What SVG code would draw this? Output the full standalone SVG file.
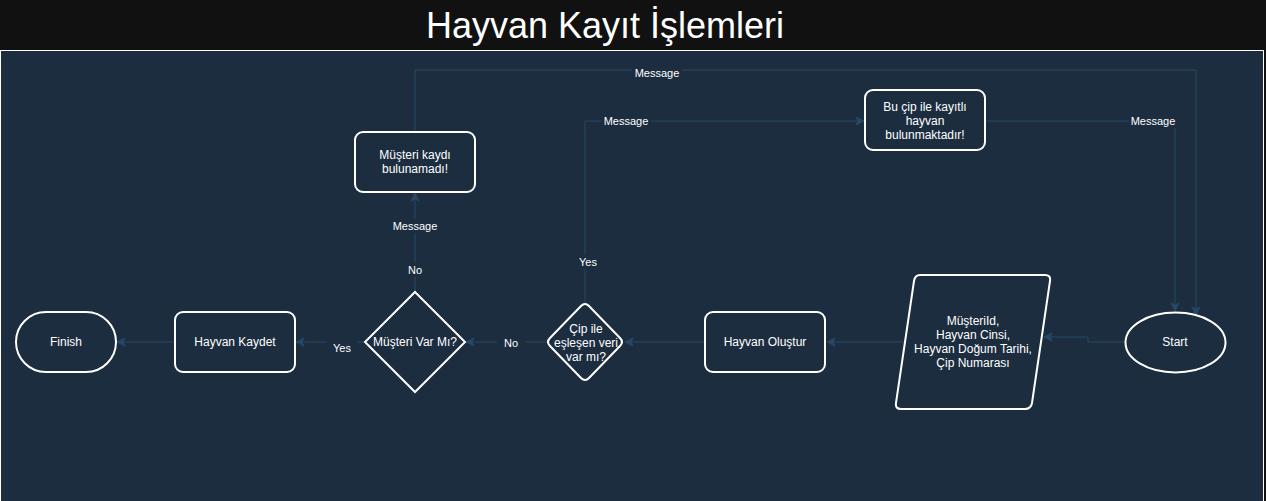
<svg xmlns="http://www.w3.org/2000/svg" width="1266" height="501" viewBox="0 0 1266 501">
<style>
.node{fill:#1b2d3f;stroke:#ffffff;stroke-width:2}
.t{font-family:"Liberation Sans",Arial,sans-serif;font-size:12px;fill:#ffffff;text-anchor:middle}
.lbl{font-family:"Liberation Sans",Arial,sans-serif;font-size:11px;fill:#ffffff;text-anchor:middle}
.lb{fill:#1b2d3f}
.edge{fill:none;stroke:#264866;stroke-width:1}
</style>
<defs>
<marker id="arr" markerWidth="10" markerHeight="10" refX="9" refY="5" orient="auto" markerUnits="userSpaceOnUse">
<path d="M1,1 L9,5 L1,9 L3,5 Z" fill="#264866" stroke="#264866"/>
</marker>
</defs>
<rect x="0" y="0" width="1266" height="501" fill="#111111"/>
<rect x="0.5" y="50.5" width="1263" height="452" fill="#1b2d3f" stroke="#ffffff" stroke-width="1"/>
<text x="605" y="38" font-family="Liberation Sans,Arial,sans-serif" font-size="36" fill="#ffffff" text-anchor="middle">Hayvan Kayıt İşlemleri</text>

<g id="connectors">
<path class="edge" d="M1125,342 H1088 V337 H1044" marker-end="url(#arr)"/>
<path class="edge" d="M904,342 H827" marker-end="url(#arr)"/>
<path class="edge" d="M705,342 H625" marker-end="url(#arr)"/>
<path class="edge" d="M547,342 H466" marker-end="url(#arr)"/>
<path class="edge" d="M365,342 H296" marker-end="url(#arr)"/>
<path class="edge" d="M175,342 H117" marker-end="url(#arr)"/>
<path class="edge" d="M415,292 V193" marker-end="url(#arr)"/>
<path class="edge" d="M415,132 V70 H1196 V315" marker-end="url(#arr)"/>
<path class="edge" d="M585,303 V121 H864" marker-end="url(#arr)"/>
<path class="edge" d="M985,121 H1175 V311" marker-end="url(#arr)"/>
<rect class="lb" x="497" y="336" width="29" height="14"/>
<text class="lbl" x="511" y="347">No</text>
<rect class="lb" x="327" y="341" width="30" height="14"/>
<text class="lbl" x="342" y="352">Yes</text>
<rect class="lb" x="400" y="263" width="30" height="14"/>
<text class="lbl" x="415" y="274">No</text>
<rect class="lb" x="390" y="219" width="50" height="14"/>
<text class="lbl" x="415" y="230">Message</text>
<rect class="lb" x="632" y="66" width="50" height="14"/>
<text class="lbl" x="657" y="77">Message</text>
<rect class="lb" x="573" y="255" width="30" height="14"/>
<text class="lbl" x="588" y="266">Yes</text>
<rect class="lb" x="601" y="114" width="50" height="14"/>
<text class="lbl" x="626" y="125">Message</text>
<rect class="lb" x="1129" y="114" width="48" height="14"/>
<text class="lbl" x="1153" y="125">Message</text>
</g>

<g id="finish">
<rect class="node" x="16" y="312" width="100" height="60" rx="30" ry="30"/>
<text class="t" x="66" y="346">Finish</text>
</g>
<g id="hayvan-kaydet">
<rect class="node" x="175" y="312" width="120" height="60" rx="8"/>
<text class="t" x="235" y="346">Hayvan Kaydet</text>
</g>
<g id="musteri-var-mi">
<path class="node" d="M415,292 L465,342 L415,392 L365,342 Z"/>
<text class="t" x="415" y="346">Müşteri Var Mı?</text>
</g>
<g id="cip-eslesen">
<path class="node" stroke-linejoin="round" d="M581,306 Q585,302 589,306 L620,338 Q624,342 620,346 L589,378 Q585,382 581,378 L550,346 Q546,342 550,338 Z"/>
<text class="t" x="586" y="333">Çip ile</text>
<text class="t" x="586" y="347">eşleşen veri</text>
<text class="t" x="586" y="361">var mı?</text>
</g>
<g id="hayvan-olustur">
<rect class="node" x="705" y="312" width="120" height="60" rx="8"/>
<text class="t" x="765" y="346">Hayvan Oluştur</text>
</g>
<g id="girdi">
<path class="node" stroke-linejoin="round" d="M920,275 H1045 Q1051,275 1050,281 L1032,403 Q1031,409 1025,409 H901 Q895,409 896,403 L914,281 Q915,275 920,275 Z"/>
<text class="t" x="973" y="325">MüşteriId,</text>
<text class="t" x="973" y="339">Hayvan Cinsi,</text>
<text class="t" x="973" y="353">Hayvan Doğum Tarihi,</text>
<text class="t" x="973" y="367">Çip Numarası</text>
</g>
<g id="start">
<ellipse class="node" cx="1175.5" cy="342.5" rx="50" ry="30"/>
<text class="t" x="1175" y="346">Start</text>
</g>
<g id="musteri-kaydi-yok">
<rect class="node" x="355" y="132" width="120" height="60" rx="8"/>
<text class="t" x="415" y="159">Müşteri kaydı</text>
<text class="t" x="415" y="173">bulunamadı!</text>
</g>
<g id="cip-kayitli">
<rect class="node" x="865" y="90" width="120" height="60" rx="8"/>
<text class="t" x="925" y="111">Bu çip ile kayıtlı</text>
<text class="t" x="925" y="125">hayvan</text>
<text class="t" x="925" y="139">bulunmaktadır!</text>
</g>
</svg>
